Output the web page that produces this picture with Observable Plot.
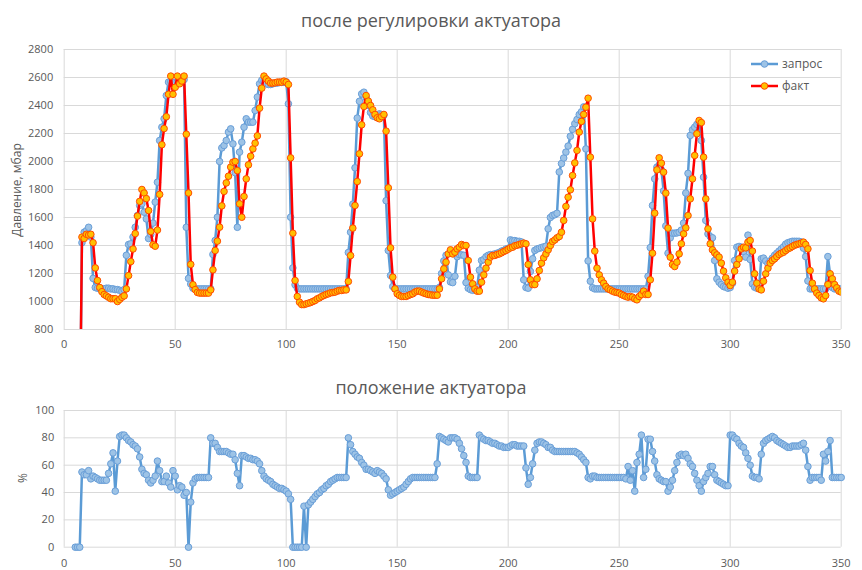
<!DOCTYPE html>
<html><head><meta charset="utf-8">
<script src="https://cdn.jsdelivr.net/npm/d3@7"></script>
<script src="https://cdn.jsdelivr.net/npm/@observablehq/plot@0.6"></script>
<style>
body{margin:0;background:#fff;font-family:"Open Sans",sans-serif;}
#wrap{position:relative;width:862px;height:570px;overflow:hidden;background:#fff}
#top,#bottom{position:absolute;left:0}
#top{top:0}
#bottom{top:355px}
.title{position:absolute;left:0;width:862px;text-align:center;color:#595959;font-size:18px;line-height:24px;white-space:nowrap}
.ylab{position:absolute;color:#595959;font-size:12px;white-space:nowrap;transform:translate(-50%,-50%) rotate(-90deg)}
.leg{position:absolute;display:flex;align-items:center;color:#595959;font-size:12px;line-height:16px}
.leg svg{display:block;margin-right:3px}
</style></head><body>
<div id="wrap">
  <div id="top"></div>
  <div id="bottom"></div>
</div>
<script>
// ---- data ----
const pressureStart = 7;   // first sample (x) of the pressure series
const zapros = [
0,1420,1495,1505,1530,1460,1165,1100,1095,1090,
1090,1090,1095,1095,1090,1090,1085,1085,1080,1075,
1085,1330,1407,1412,1460,1530,1614,1686,1698,1638,
1590,1450,1480,1560,1710,1852,2150,2245,2305,2471,
2567,2570,2560,2565,2570,2575,2580,2585,1530,1165,
1125,1095,1090,1090,1090,1090,1090,1090,1090,1090,
1336,1436,1602,2000,2097,2114,2150,2210,2233,2126,
1920,1530,2067,2138,2245,2305,2281,2281,2281,2364,
2460,2555,2580,2570,2555,2550,2550,2555,2560,2560,
2565,2565,2565,2570,2412,1602,1240,1120,1095,1090,
1090,1090,1090,1090,1090,1090,1090,1090,1090,1090,
1090,1090,1090,1090,1090,1090,1090,1090,1090,1090,
1090,1350,1495,1695,1955,2310,2430,2483,2495,2455,
2400,2350,2325,2320,2330,2340,2335,2330,1720,1364,
1186,1107,1090,1090,1090,1090,1090,1090,1090,1090,
1090,1090,1090,1090,1090,1090,1090,1090,1090,1090,
1090,1090,1100,1200,1290,1330,1190,1140,1135,1180,
1320,1335,1333,1330,1135,1095,1085,1080,1085,1100,
1224,1293,1300,1320,1330,1335,1335,1340,1345,1350,
1360,1365,1375,1380,1440,1435,1435,1430,1430,1425,
1155,1100,1095,1215,1305,1365,1375,1380,1385,1390,
1395,1519,1600,1615,1620,1630,1925,1985,2025,2067,
2110,2180,2230,2270,2300,2335,2355,2390,2090,1290,
1145,1098,1090,1090,1090,1090,1090,1090,1090,1090,
1090,1090,1090,1090,1090,1090,1090,1090,1090,1090,
1090,1090,1090,1090,1090,1090,1180,1385,1686,1876,
1960,1975,1940,1790,1540,1345,1455,1488,1488,1490,
1495,1510,1560,1775,1915,2186,2226,2245,2265,2275,
2150,1888,1579,1483,1464,1455,1293,1162,1138,1121,
1107,1102,1095,1100,1130,1293,1388,1393,1388,1355,
1317,1474,1300,1126,1102,1095,1095,1305,1310,1290,
1270,1290,1310,1330,1345,1360,1375,1390,1410,1420,
1425,1430,1430,1430,1430,1425,1381,1321,1147,1090,
1090,1090,1090,1090,1090,1090,1090,1321,1193,1100,
1090,1090,1090,1090
];
const fakt = [
0,1460,1450,1480,1475,1480,1420,1240,1150,1100,
1070,1050,1040,1030,1020,1020,1020,1000,1015,1030,
1040,1090,1185,1285,1375,1485,1610,1715,1800,1775,
1735,1650,1500,1405,1395,1510,1765,2120,2235,2320,
2480,2610,2480,2530,2610,2555,2575,2610,2195,1775,
1265,1120,1085,1065,1060,1060,1060,1060,1060,1083,
1226,1364,1431,1531,1683,1786,1847,1895,1960,1995,
2000,1935,1698,1602,1750,1876,1976,2038,2090,2131,
2183,2381,2524,2610,2590,2574,2560,2560,2562,2567,
2567,2567,2574,2567,2550,2026,1488,1150,1036,995,
978,978,983,988,993,1000,1007,1019,1026,1036,
1043,1050,1055,1062,1064,1067,1074,1079,1079,1083,
1083,1143,1328,1524,1686,1857,2055,2262,2393,2471,
2431,2400,2369,2336,2312,2305,2321,2336,2217,1812,
1383,1174,1090,1055,1043,1036,1036,1036,1043,1050,
1055,1067,1074,1074,1067,1060,1055,1050,1048,1045,
1045,1045,1090,1162,1233,1281,1340,1369,1340,1352,
1376,1388,1407,1400,1400,1293,1174,1126,1090,1074,
1074,1138,1190,1238,1281,1317,1329,1329,1336,1340,
1348,1357,1364,1374,1383,1388,1398,1402,1407,1412,
1417,1412,1264,1155,1121,1121,1162,1221,1274,1312,
1340,1369,1400,1429,1440,1455,1464,1495,1579,1679,
1745,1798,1900,1990,2079,2210,2286,2336,2388,2452,
2031,1590,1360,1238,1190,1155,1131,1107,1090,1083,
1074,1067,1064,1060,1050,1043,1036,1031,1036,1031,
1019,1012,1036,1050,1074,1050,1050,1155,1345,1631,
1940,2026,1988,1924,1774,1524,1317,1264,1250,1281,
1340,1412,1483,1526,1614,1733,1876,2043,2198,2293,
2278,2031,1733,1519,1412,1369,1348,1333,1317,1274,
1217,1169,1138,1114,1138,1217,1264,1305,1376,1388,
1383,1424,1436,1360,1198,1131,1090,1083,1145,1198,
1238,1274,1293,1305,1321,1336,1345,1352,1364,1376,
1383,1393,1402,1407,1412,1417,1424,1407,1376,1221,
1131,1090,1060,1043,1026,1019,1043,1121,1198,1162,
1121,1098,1074,1067
];
const positionStart = 5;   // first sample (x) of the actuator position series
const polozhenie = [
0,0,0,55,53,53,56,50,52,51,
50,49,49,49,49,54,61,69,41,63,
81,82,82,80,78,77,75,74,72,66,
57,54,53,49,47,49,52,63,56,48,
48,52,47,44,56,52,42,45,44,38,
40,0,33,47,50,51,51,51,51,51,
51,80,76,76,73,70,70,70,70,69,
68,68,64,54,45,67,67,66,65,65,
64,64,63,61,56,52,50,49,48,46,
45,44,43,43,42,41,39,35,0,0,
0,0,0,30,0,31,33,35,37,39,
40,42,43,45,46,48,49,50,51,51,
51,51,51,80,75,70,68,66,65,62,
60,57,57,56,55,54,56,55,54,52,
50,42,38,39,40,41,42,43,44,46,
48,50,51,51,51,51,51,51,51,51,
51,51,51,61,81,80,79,78,77,80,
80,80,79,76,72,67,62,52,51,51,
51,51,82,80,79,78,78,77,76,76,
75,74,74,73,73,73,74,75,75,74,
74,74,74,58,46,51,61,71,76,77,
77,76,75,73,73,71,70,70,70,70,
70,70,70,70,70,70,69,68,66,64,
62,51,50,52,52,51,51,51,51,51,
51,51,51,51,51,51,51,51,50,59,
49,56,41,62,68,82,51,57,79,79,
70,63,53,50,49,48,48,41,44,49,
56,62,67,68,67,68,65,61,59,54,
49,45,41,48,51,54,59,59,53,49,
48,47,46,45,45,82,82,80,79,76,
74,73,69,65,60,52,51,51,50,68,
76,78,79,80,81,80,78,77,76,75,
74,73,73,74,74,74,74,75,76,71,
59,49,51,51,51,51,49,68,63,70,
78,51,51,51,51,51
];
const xTicks = [0, 50, 100, 150, 200, 250, 300, 350];
const pressureTicks = [800, 1000, 1200, 1400, 1600, 1800, 2000, 2200, 2400, 2600, 2800];
const percentTicks = [0, 20, 40, 60, 80, 100];
const titleTop = "после регулировки актуатора";
const titleBottom = "положение актуатора";
const yLabelTop = "Давление, мбар";
const yLabelBottom = "%";
const seriesNames = ["запрос", "факт"];

// ---- styles ----
const FONT = '"Open Sans", sans-serif';
const TXT = "#595959";
const GRID = "#D9D9D9";
const BLUE_LINE = "#5B9BD5", BLUE_FILL = "#9DC3E6", BLUE_EDGE = "#6A9FD8";
const RED_LINE = "#FF0000", RED_FILL = "#FFC000", RED_EDGE = "#FF4B00";
const plain = d => String(d);

const topRows = zapros.map((v, i) => ({t: pressureStart + i, zapros: v, fakt: fakt[i]}));
const posRows = polozhenie.map((v, i) => ({t: positionStart + i, pos: v}));

const topChart = Plot.plot({
  width: 862, height: 355,
  marginLeft: 63.7, marginRight: 21.3, marginTop: 49, marginBottom: 26,
  style: {fontFamily: FONT, fontSize: "11px", color: TXT, background: "transparent", overflow: "visible"},
  x: {type: "linear", domain: [0, 350]},
  y: {type: "linear", domain: [800, 2800]},
  marks: [
    Plot.gridX(xTicks, {stroke: GRID, strokeOpacity: 1}),
    Plot.gridY(pressureTicks, {stroke: GRID, strokeOpacity: 1}),
    Plot.axisX(xTicks, {tickSize: 0, tickPadding: 11, label: null, tickFormat: plain}),
    Plot.axisY(pressureTicks, {tickSize: 0, tickPadding: 11, label: null, tickFormat: plain}),
    Plot.line(topRows, {x: "t", y: "zapros", stroke: BLUE_LINE, strokeWidth: 2.5, clip: true}),
    Plot.dot(topRows, {x: "t", y: "zapros", r: 3.3, fill: BLUE_FILL, stroke: BLUE_EDGE, strokeWidth: 1, clip: true}),
    Plot.line(topRows, {x: "t", y: "fakt", stroke: RED_LINE, strokeWidth: 2.5, clip: true}),
    Plot.dot(topRows, {x: "t", y: "fakt", r: 3.3, fill: RED_FILL, stroke: RED_EDGE, strokeWidth: 1, clip: true})
  ]
});
document.getElementById("top").appendChild(topChart);

const bottomChart = Plot.plot({
  width: 862, height: 215,
  marginLeft: 63.7, marginRight: 21.3, marginTop: 55, marginBottom: 23.3,
  style: {fontFamily: FONT, fontSize: "11px", color: TXT, background: "transparent", overflow: "visible"},
  x: {type: "linear", domain: [0, 350]},
  y: {type: "linear", domain: [0, 100]},
  marks: [
    Plot.gridX(xTicks, {stroke: GRID, strokeOpacity: 1}),
    Plot.gridY(percentTicks, {stroke: GRID, strokeOpacity: 1}),
    Plot.axisX(xTicks, {tickSize: 0, tickPadding: 12, label: null, tickFormat: plain}),
    Plot.axisY(percentTicks, {tickSize: 0, tickPadding: 10, label: null, tickFormat: plain}),
    Plot.line(posRows, {x: "t", y: "pos", stroke: BLUE_LINE, strokeWidth: 2.5}),
    Plot.dot(posRows, {x: "t", y: "pos", r: 3.3, fill: BLUE_FILL, stroke: BLUE_EDGE, strokeWidth: 1})
  ]
});
document.getElementById("bottom").appendChild(bottomChart);

// ---- titles, axis labels, legend (HTML text) ----
const wrap = document.getElementById("wrap");
function addDiv(cls, text, css) {
  const d = document.createElement("div");
  d.className = cls; d.textContent = text;
  Object.assign(d.style, css);
  wrap.appendChild(d);
  return d;
}
addDiv("title", titleTop, {top: "8px"});
addDiv("title", titleBottom, {top: "375px"});
addDiv("ylab", yLabelTop, {left: "16px", top: "190px"});
addDiv("ylab", yLabelBottom, {left: "22px", top: "478px"});

const legendSpecs = [
  {name: seriesNames[0], line: BLUE_LINE, fill: BLUE_FILL, edge: BLUE_EDGE, cy: 64},
  {name: seriesNames[1], line: RED_LINE, fill: RED_FILL, edge: RED_EDGE, cy: 86}
];
for (const s of legendSpecs) {
  const item = document.createElement("div");
  item.className = "leg";
  item.style.left = "751px";
  item.style.top = (s.cy - 8) + "px";
  const ns = "http://www.w3.org/2000/svg";
  const svg = document.createElementNS(ns, "svg");
  svg.setAttribute("width", "28"); svg.setAttribute("height", "16");
  const ln = document.createElementNS(ns, "line");
  ln.setAttribute("x1", "0"); ln.setAttribute("x2", "27"); ln.setAttribute("y1", "8"); ln.setAttribute("y2", "8");
  ln.setAttribute("stroke", s.line); ln.setAttribute("stroke-width", "2.5");
  const c = document.createElementNS(ns, "circle");
  c.setAttribute("cx", "13.5"); c.setAttribute("cy", "8"); c.setAttribute("r", "3.3");
  c.setAttribute("fill", s.fill); c.setAttribute("stroke", s.edge);
  svg.appendChild(ln); svg.appendChild(c);
  const span = document.createElement("span");
  span.textContent = s.name;
  item.appendChild(svg); item.appendChild(span);
  wrap.appendChild(item);
}
</script>
</body></html>
